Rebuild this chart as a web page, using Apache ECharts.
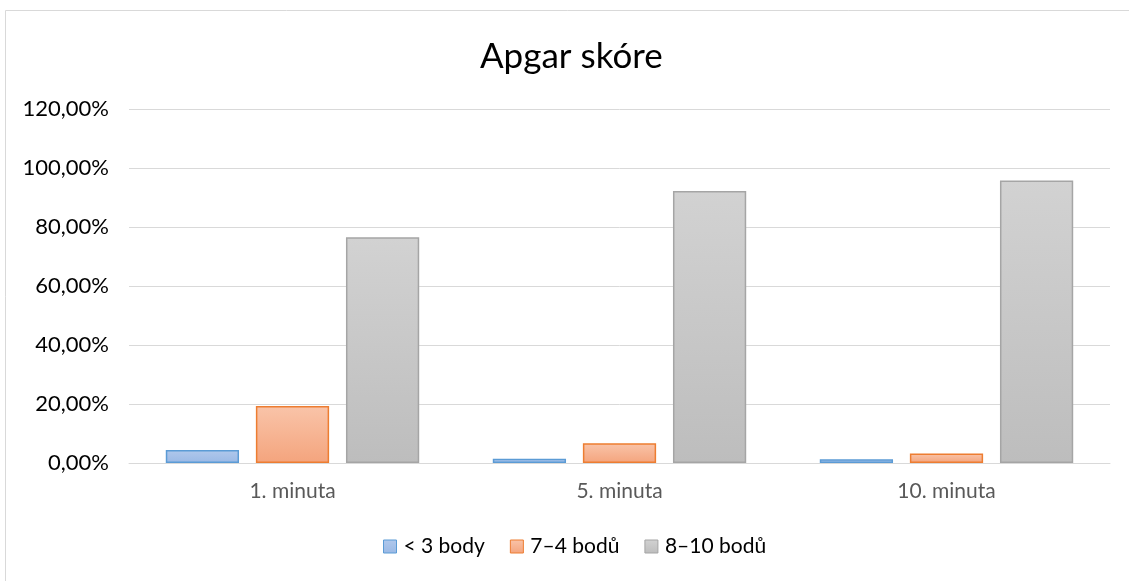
<!DOCTYPE html>
<html><head><meta charset="utf-8">
<script src="https://cdn.jsdelivr.net/npm/echarts@6/dist/echarts.min.js"></script>
<style>html,body{margin:0;padding:0;background:#fff}#c{width:1129px;height:581px}</style>
</head><body><div id="c"></div>
<script>
const categories = ['1. minuta', '5. minuta', '10. minuta'];
const seriesNames = ['< 3 body', '7–4 bodů', '8–10 bodů'];
const lowScore = [4.4, 1.4, 1.3];
const midScore = [19.3, 6.7, 3.2];
const highScore = [76.5, 92.2, 95.8];
const yTicks = [0, 20, 40, 60, 80, 100, 120];

const font = 'Lato, "Open Sans", sans-serif';
function grad(top, bottom) {
  return new echarts.graphic.LinearGradient(0, 0, 0, 1, [{offset: 0, color: top}, {offset: 1, color: bottom}]);
}
const styles = [
  {fill: grad('#b0c8ec', '#9ab9e5'), border: '#5b9bd5'},
  {fill: grad('#f9c4a9', '#f4a47d'), border: '#ed7d31'},
  {fill: grad('#d2d2d2', '#bdbdbd'), border: '#a5a5a5'}
];
const values = [lowScore, midScore, highScore];

const chart = echarts.init(document.getElementById('c'), null, {renderer: 'canvas'});
chart.setOption({
  animation: false,
  backgroundColor: '#fff',
  graphic: [{type: 'rect', shape: {x: 5.5, y: 10.5, width: 1200, height: 700}, style: {fill: 'none', stroke: '#d9d9d9', lineWidth: 1}, silent: true}],
  title: {text: 'Apgar skóre', left: 475, top: 34, textStyle: {fontFamily: font, fontSize: 35, fontWeight: 'normal', color: '#000'}},
  legend: {
    bottom: 19, left: 378, itemWidth: 13, itemHeight: 13, itemGap: 25,
    textStyle: {fontFamily: font, fontSize: 21, color: '#000', padding: [0,0,0,2]},
    data: seriesNames.map((n, i) => ({name: n, icon: 'rect', itemStyle: {color: styles[i].fill, borderColor: styles[i].border, borderWidth: 1}}))
  },
  grid: {left: 129, right: 19, top: 109, bottom: 118},
  xAxis: {
    type: 'category', data: categories,
    axisLine: {lineStyle: {color: '#d9d9d9', width: 1}},
    axisTick: {show: false},
    axisLabel: {fontFamily: font, fontSize: 21, color: '#595959', margin: 18}
  },
  yAxis: {
    type: 'value', min: yTicks[0], max: yTicks[yTicks.length - 1], interval: 20,
    axisLine: {show: false}, axisTick: {show: false},
    splitLine: {lineStyle: {color: '#d9d9d9', width: 1}},
    axisLabel: {fontFamily: font, fontSize: 22, color: '#000', margin: 20,
      formatter: v => v.toFixed(2).replace('.', ',') + '%'}
  },
  series: seriesNames.map((n, i) => ({
    name: n, type: 'bar', data: values[i],
    barGap: '23%', barCategoryGap: '22.5%',
    itemStyle: {color: styles[i].fill, borderColor: styles[i].border, borderWidth: 1.5}
  }))
});
</script></body></html>
